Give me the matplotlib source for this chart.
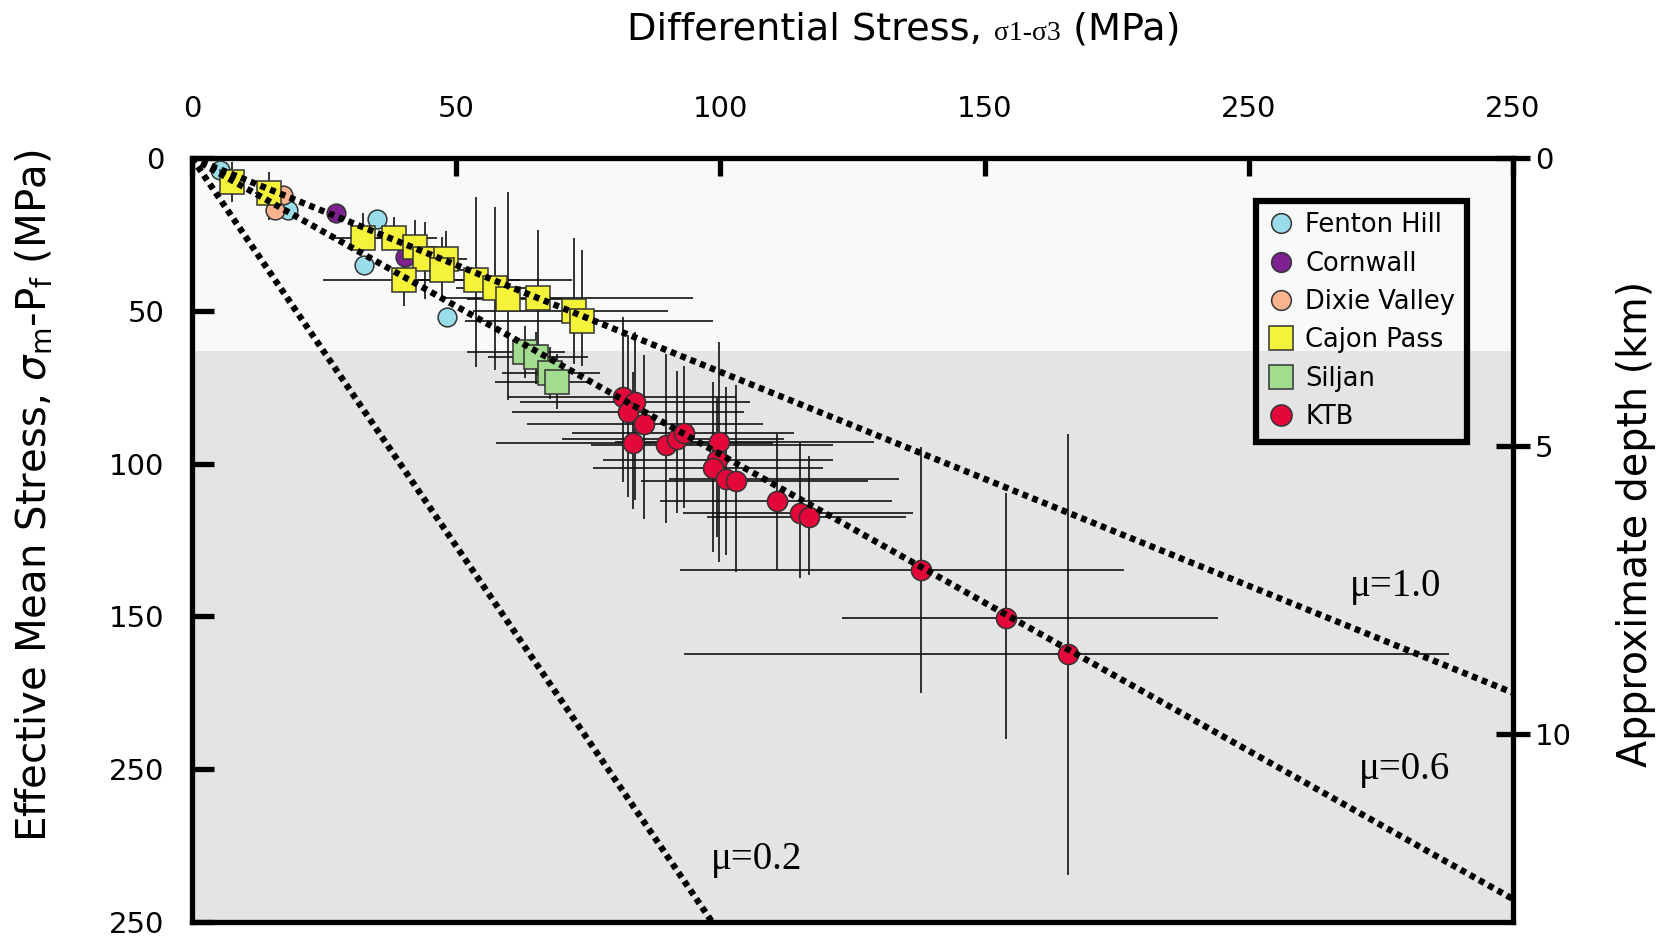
import numpy as np
import matplotlib
matplotlib.use("Agg")
import matplotlib.pyplot as plt
from matplotlib.offsetbox import TextArea, HPacker, AnchoredOffsetbox

# ------------------------------
# data (MPa)
# ------------------------------
fenton_x = [5.3, 18.2, 35.1, 32.5, 48.2]
fenton_y = [3.9, 17.0, 20.1, 35.0, 52.0]

cornwall_x = [27.2, 40.3]
cornwall_y = [18.1, 32.3]

dixie_x = [17.3, 15.7]
dixie_y = [12.1, 17.0]

# value, low / high end of bar
cajon_x = [7.5, 14.6, 32.4, 38.3, 42.2, 44.1, 48.1, 47.3, 40.1, 53.7, 57.3, 59.8, 65.5, 72.3, 73.9]
cajon_y = [7.8, 11.6, 26.3, 26.3, 29.2, 33.2, 33.2, 36.6, 39.9, 39.9, 42.6, 46.2, 45.9, 50.1, 53.4]
cajon_xlo = [5.5, 12.0, 26.7, 35.0, 38.5, 40.5, 44.5, 43.0, 24.8, 40.0, 50.0, 52.0, 47.5, 53.2, 51.6]
cajon_xhi = [9.5, 17.5, 46.3, 42.0, 46.0, 48.0, 52.0, 51.5, 62.0, 72.0, 66.0, 70.0, 94.8, 90.1, 98.6]
cajon_ylo = [1.2, 4.5, 18.0, 19.2, 20.3, 21.0, 24.0, 26.0, 34.6, 12.7, 15.9, 11.2, 23.5, 26.2, 30.0]
cajon_yhi = [14.3, 20.3, 30.0, 29.5, 32.2, 46.0, 40.0, 46.8, 48.3, 68.3, 69.4, 79.2, 71.5, 67.3, 68.0]

siljan_x = [63.0, 65.2, 67.7, 69.0]
siljan_y = [63.4, 65.1, 70.3, 73.2]
siljan_xlo = [52.0, 56.1, 58.6, 57.3]
siljan_xhi = [70.6, 75.0, 77.2, 75.3]
siljan_ylo = [55.0, 57.0, 62.0, 64.0]
siljan_yhi = [72.0, 74.0, 79.0, 82.0]

ktb_x = [81.6, 83.8, 82.5, 85.5, 83.5, 89.8, 91.8, 93.1, 99.8, 99.4, 98.6, 101.0, 102.9,
         110.7, 115.0, 116.8, 138.0, 154.0, 165.7]
ktb_y = [78.2, 79.8, 83.1, 87.1, 93.2, 93.8, 91.8, 90.1, 92.9, 98.9, 101.3, 105.1, 105.7,
         112.2, 116.1, 117.4, 134.9, 150.4, 162.2]
ktb_xlo = [59.8, 62.0, 60.5, 63.4, 57.6, 75.6, 70.0, 72.0, 80.0, 77.8, 75.9, 90.3, 85.0,
           88.6, 92.9, 97.5, 92.3, 123.0, 93.1]
ktb_xhi = [103.0, 105.6, 104.4, 108.1, 110.0, 121.3, 112.0, 114.0, 129.0, 121.3, 119.4, 133.9, 128.0,
           132.4, 136.5, 135.2, 176.4, 194.2, 237.9]
ktb_ylo = [52.0, 57.0, 58.0, 64.6, 70.0, 64.2, 69.6, 68.0, 60.1, 78.7, 73.2, 75.0, 74.4,
           90.2, 93.0, 97.6, 94.5, 109.6, 90.4]
ktb_yhi = [106.0, 111.8, 110.9, 118.0, 115.0, 119.6, 116.1, 114.5, 132.2, 124.0, 128.9, 130.0, 135.5,
           134.9, 137.6, 136.5, 175.2, 190.2, 234.5]

# friction lines: mean stress = slope * differential stress
mu_labels = ["μ=1.0", "μ=0.6", "μ=0.2"]
mu_slopes = [0.70, 0.97, 2.54]
mu_label_pos = [(227.8, 140.1), (229.5, 200.0), (106.9, 229.5)]

tick_vals = [0, 50, 100, 150, 200, 250]
tick_text = ["0", "50", "100", "150", "250", "250"]
depth_ticks = [0, 5, 10]
mpa_per_km = 18.85
shallow_limit = 63.0

# ------------------------------
# figure
# ------------------------------
fig = plt.figure(figsize=(16.71, 9.36), dpi=100)
ax = fig.add_axes([0.1149, 0.015, 0.7905, 0.8162])
ax.set_facecolor("#e4e4e4")
ax.axhspan(0, shallow_limit, color="#f8f9f9", zorder=0, lw=0)

ax.set_xlim(0, 250)
ax.set_ylim(250, 0)

ebar = dict(fmt="none", ecolor="#111111", elinewidth=1.2, capsize=0, zorder=1)


def bars(x, y, xlo, xhi, ylo, yhi):
    x = np.array(x); y = np.array(y)
    xerr = [x - np.array(xlo), np.array(xhi) - x]
    yerr = [y - np.array(ylo), np.array(yhi) - y]
    ax.errorbar(x, y, xerr=xerr, yerr=yerr, **ebar)


bars(cajon_x, cajon_y, cajon_xlo, cajon_xhi, cajon_ylo, cajon_yhi)
bars(siljan_x, siljan_y, siljan_xlo, siljan_xhi, siljan_ylo, siljan_yhi)
bars(ktb_x, ktb_y, ktb_xlo, ktb_xhi, ktb_ylo, ktb_yhi)

mk = dict(linestyle="none", markeredgecolor="#333333", markeredgewidth=1.1, zorder=3)
ax.plot(fenton_x, fenton_y, "o", ms=13.5, color="#99dcea", label="Fenton Hill", **mk)
ax.plot(cornwall_x, cornwall_y, "o", ms=13.5, color="#7f2190", label="Cornwall", **mk)
ax.plot(dixie_x, dixie_y, "o", ms=13.5, color="#f9b38f", label="Dixie Valley", **mk)
ax.plot(cajon_x, cajon_y, "s", ms=17, color="#f5f23a", label="Cajon Pass", **mk)
ax.plot(siljan_x, siljan_y, "s", ms=17, color="#a1dc8f", label="Siljan", **mk)
ax.plot(ktb_x, ktb_y, "o", ms=14.5, color="#e4073a", label="KTB", **mk)

# dotted friction lines from the origin to the frame
for lab, s, (lx, ly) in zip(mu_labels, mu_slopes, mu_label_pos):
    xe = min(250, 250 / s)
    ax.plot([0, xe], [0, s * xe], color="black", lw=4.6, linestyle=(0, (0.9, 0.75)),
            zorder=4, solid_capstyle="butt")
    ax.text(lx, ly, lab, family="Liberation Serif", fontsize=28, ha="center", va="center", zorder=5)

# axes / ticks
for sp in ax.spines.values():
    sp.set_linewidth(3.8)
ax.xaxis.tick_top()
ax.set_xticks(tick_vals)
ax.set_xticklabels(tick_text)
ax.set_yticks(tick_vals)
ax.set_yticklabels(tick_text)
ax.tick_params(axis="x", direction="in", length=13, width=3.8, labelsize=21, pad=25)
ax.tick_params(axis="y", direction="in", length=16, width=3.8, labelsize=21, pad=20)

ax2 = ax.twinx()
ax2.set_ylim(250 / mpa_per_km, 0)
ax2.set_yticks(depth_ticks)
ax2.tick_params(axis="y", direction="inout", length=24, width=3.8, labelsize=21, pad=4)
for sp in ax2.spines.values():
    sp.set_visible(False)

leg = ax.legend(loc="upper right", bbox_to_anchor=(0.965, 0.944), fontsize=18.5,
                frameon=True, fancybox=False, framealpha=1, handletextpad=0.45, borderpad=0.45,
                labelspacing=0.48, handlelength=1.0, borderaxespad=0, markerscale=1.05)
leg.get_frame().set_facecolor("none")
leg.get_frame().set_edgecolor("black")
leg.get_frame().set_linewidth(4.5)
leg.set_zorder(6)

# title built from pieces so the sigma part can be smaller and serif
parts = HPacker(children=[
    TextArea("Differential Stress, ", textprops=dict(fontsize=27.5)),
    TextArea("σ1-σ3", textprops=dict(fontsize=20, family="Liberation Serif")),
    TextArea(" (MPa)", textprops=dict(fontsize=27.5)),
], align="baseline", pad=0, sep=0)
title = AnchoredOffsetbox(loc="center", child=parts, bbox_to_anchor=(0.541, 0.968),
                          bbox_transform=fig.transFigure, frameon=False, pad=0, borderpad=0)
fig.add_artist(title)

fig.text(0.021, 0.47, r"Effective Mean Stress, $\sigma_{\mathrm{m}}$-P$_{\mathrm{f}}$ (MPa)",
         rotation=90, fontsize=29, ha="center", va="center")
fig.text(0.979, 0.44, "Approximate depth (km)", rotation=90, fontsize=28.5,
         ha="center", va="center")

fig.savefig("out.png", dpi=100)
